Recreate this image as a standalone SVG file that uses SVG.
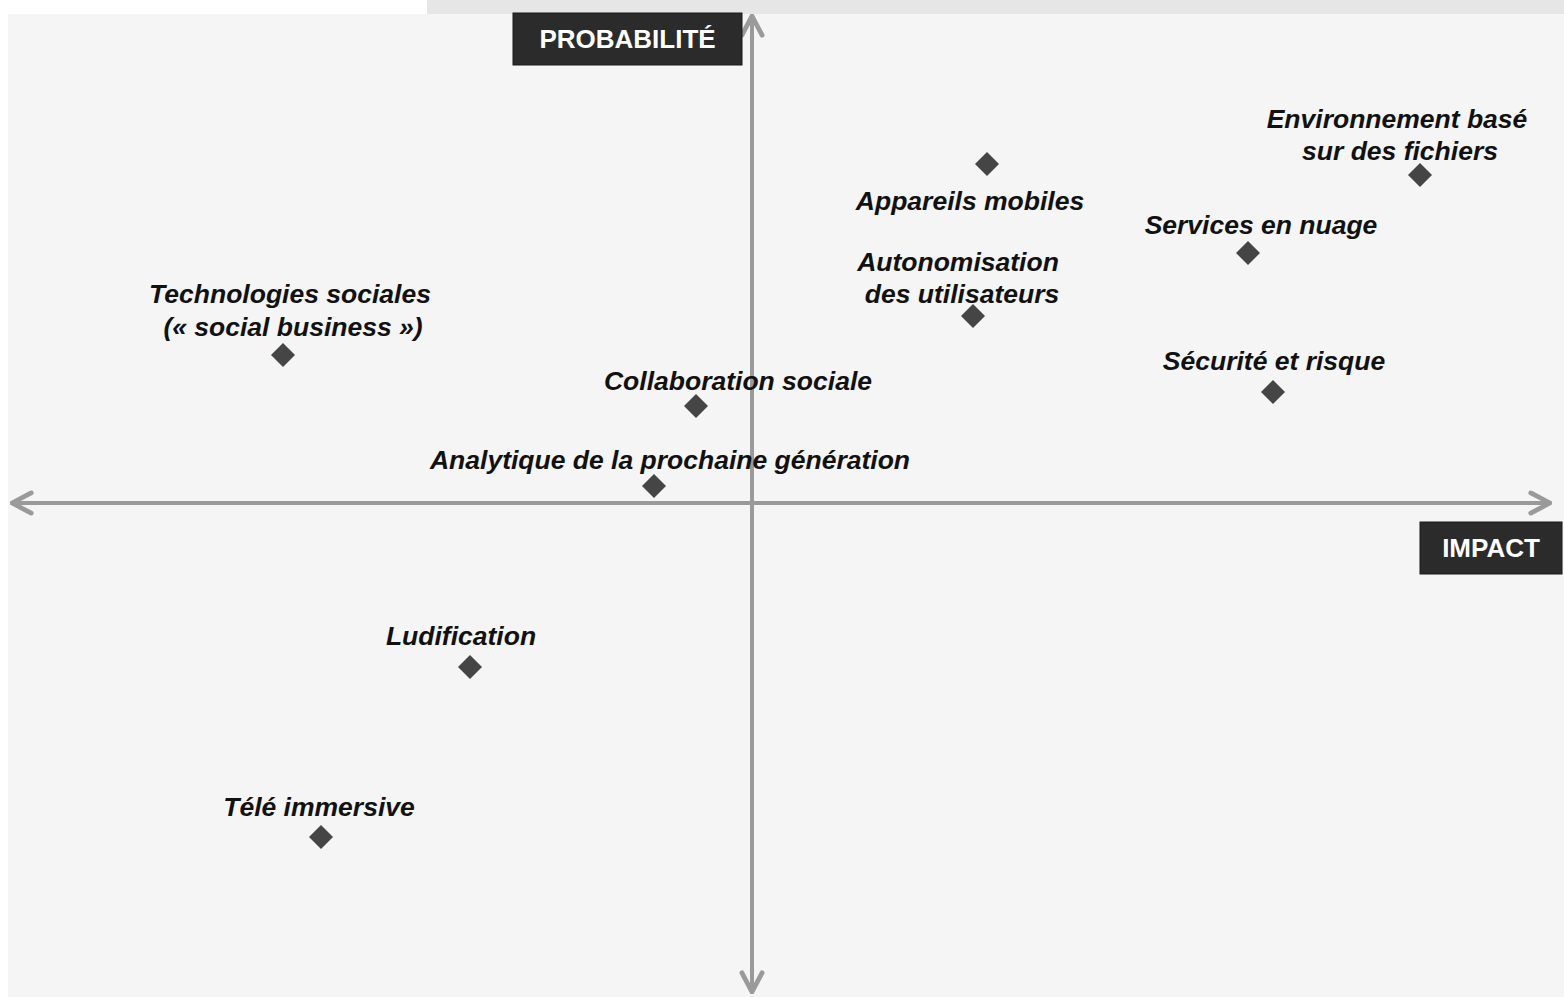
<svg xmlns="http://www.w3.org/2000/svg" width="1564" height="997" viewBox="0 0 1564 997">
<style>
.lbl{font-family:"Liberation Sans",Arial,sans-serif;font-size:26.5px;font-weight:bold;font-style:italic;fill:#111;text-anchor:middle}
.box{fill:#2b2b2b;stroke:#1a1a1a;stroke-width:1}
.boxt{font-family:"Liberation Sans",Arial,sans-serif;font-size:26px;font-weight:bold;fill:#fff;text-anchor:middle}
.axis{stroke:#9a9a9a;stroke-width:4;fill:none}
.dot{fill:#454545}
</style>
<defs>
<marker id="chev" viewBox="0 0 10 10" refX="9" refY="5" markerWidth="6" markerHeight="7" markerUnits="strokeWidth" orient="auto-start-reverse">
<path d="M1,0.8 L9,5 L1,9.2" fill="none" stroke="#9a9a9a" stroke-width="2" stroke-linecap="round" stroke-linejoin="round"/>
</marker>
<path id="dm" d="M0,-12 L12,0 L0,12 L-12,0 Z"/>
</defs>
<rect x="0" y="0" width="1564" height="997" fill="#ffffff"/>
<rect x="427" y="0" width="1137" height="14" fill="#e6e6e6"/>
<rect x="8" y="14" width="1556" height="983" fill="#f5f5f5"/>
<g id="connectors">
<line class="axis" x1="12" y1="503" x2="1550" y2="503" marker-start="url(#chev)" marker-end="url(#chev)"/>
<line class="axis" x1="752" y1="992" x2="752" y2="16" marker-start="url(#chev)" marker-end="url(#chev)"/>
</g>
<g id="axis-probabilite">
<rect class="box" x="513" y="13" width="229" height="52"/>
<text class="boxt" x="627.5" y="48">PROBABILITÉ</text>
</g>
<g id="axis-impact">
<rect class="box" x="1420" y="522" width="142" height="52"/>
<text class="boxt" x="1491" y="557">IMPACT</text>
</g>
<g id="n-environnement">
<use href="#dm" class="dot" x="1420" y="175"/>
<text class="lbl" x="1397" y="128">Environnement basé</text>
<text class="lbl" x="1400" y="160">sur des fichiers</text>
</g>
<g id="n-appareils">
<use href="#dm" class="dot" x="987" y="164"/>
<text class="lbl" x="970" y="210">Appareils mobiles</text>
</g>
<g id="n-services">
<use href="#dm" class="dot" x="1248" y="253"/>
<text class="lbl" x="1261" y="234">Services en nuage</text>
</g>
<g id="n-autonomisation">
<use href="#dm" class="dot" x="973" y="316"/>
<text class="lbl" x="958" y="271">Autonomisation</text>
<text class="lbl" x="962" y="303">des utilisateurs</text>
</g>
<g id="n-technologies">
<use href="#dm" class="dot" x="283" y="355"/>
<text class="lbl" x="290" y="303">Technologies sociales</text>
<text class="lbl" x="293" y="336">(« social business »)</text>
</g>
<g id="n-securite">
<use href="#dm" class="dot" x="1273" y="392"/>
<text class="lbl" x="1274" y="370">Sécurité et risque</text>
</g>
<g id="n-collaboration">
<use href="#dm" class="dot" x="696" y="406"/>
<text class="lbl" x="738" y="390">Collaboration sociale</text>
</g>
<g id="n-analytique">
<use href="#dm" class="dot" x="654" y="486"/>
<text class="lbl" x="670" y="469">Analytique de la prochaine génération</text>
</g>
<g id="n-ludification">
<use href="#dm" class="dot" x="470" y="667"/>
<text class="lbl" x="461" y="645">Ludification</text>
</g>
<g id="n-tele">
<use href="#dm" class="dot" x="321" y="837"/>
<text class="lbl" x="319" y="816">Télé immersive</text>
</g>
</svg>
